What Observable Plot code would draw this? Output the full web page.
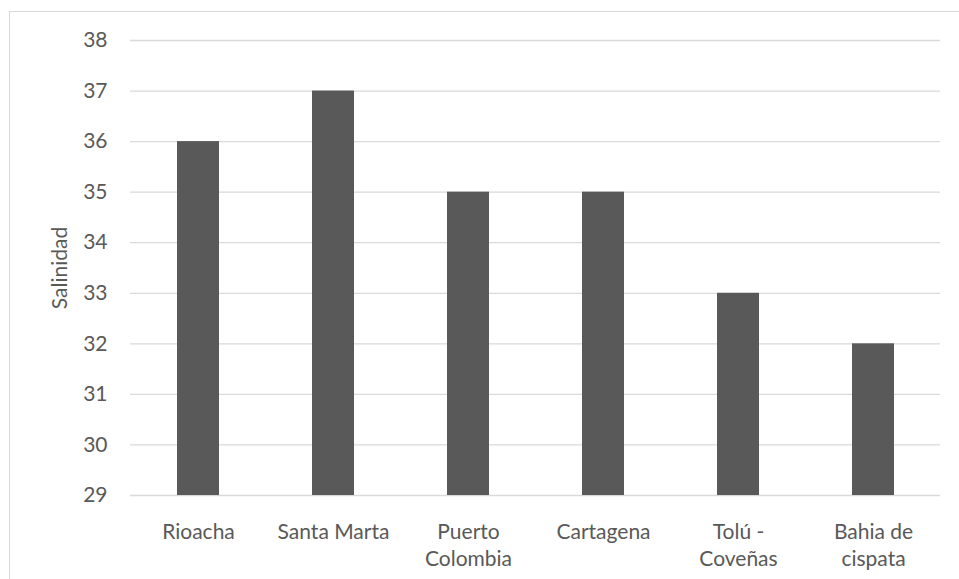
<!DOCTYPE html>
<html>
<head>
<meta charset="utf-8">
<script src="https://cdn.jsdelivr.net/npm/d3@7"></script>
<script src="https://cdn.jsdelivr.net/npm/@observablehq/plot@0.6"></script>
<style>
  html, body { margin: 0; padding: 0; background: #fff; overflow: hidden; }
  #wrap { position: relative; width: 959px; height: 579px; }
  #frame { position: absolute; left: 9px; top: 11px; width: 1000px; height: 1000px; border: 1px solid #d9d9d9; box-sizing: border-box; pointer-events: none; }
  #chart { position: absolute; left: 0; top: 0; }
</style>
</head>
<body>
<div id="wrap"><div id="frame"></div><div id="chart"></div></div>
<script>
const categories = ["Rioacha", "Santa Marta", "Puerto Colombia", "Cartagena", "Tolú - Coveñas", "Bahia de cispata"];
const tickLabels = ["Rioacha", "Santa Marta", "Puerto\nColombia", "Cartagena", "Tolú -\nCoveñas", "Bahia de\ncispata"];
const salinity = [36, 37, 35, 35, 33, 32];
const yTicks = [29, 30, 31, 32, 33, 34, 35, 36, 37, 38];
const yLabel = "Salinidad";

const data = categories.map((c, i) => ({ category: c, value: salinity[i] }));
const labelOf = new Map(categories.map((c, i) => [c, tickLabels[i]]));

const chart = Plot.plot({
  width: 959,
  height: 579,
  marginLeft: 130,
  marginRight: 19,
  marginTop: 40,
  marginBottom: 84,
  style: { fontFamily: "Lato, sans-serif", fontSize: "21px", color: "#595959", background: "transparent" },
  x: { domain: categories, paddingInner: 0.69, paddingOuter: 0.345, label: null },
  y: { domain: [29, 38], ticks: yTicks, label: null },
  marks: [
    Plot.ruleY(yTicks, { stroke: "#d9d9d9", strokeWidth: 1.3 }),
    Plot.barY(data, { x: "category", y1: 29, y2: "value", fill: "#595959" }),
    Plot.axisY({ ticks: yTicks, tickSize: 0, tickPadding: 23, label: null, fill: "#595959", fontSize: 21 }),
    Plot.axisX({ tickSize: 0, tickPadding: 25, tickFormat: d => labelOf.get(d), lineHeight: 1.27, label: null, fill: "#595959", fontSize: 21 }),
    Plot.text([yLabel], { frameAnchor: "left", textAnchor: "middle", lineAnchor: "middle", dx: -70, rotate: -90, fill: "#595959", fontSize: 21 })
  ]
});
document.getElementById("chart").appendChild(chart);
</script>
</body>
</html>
